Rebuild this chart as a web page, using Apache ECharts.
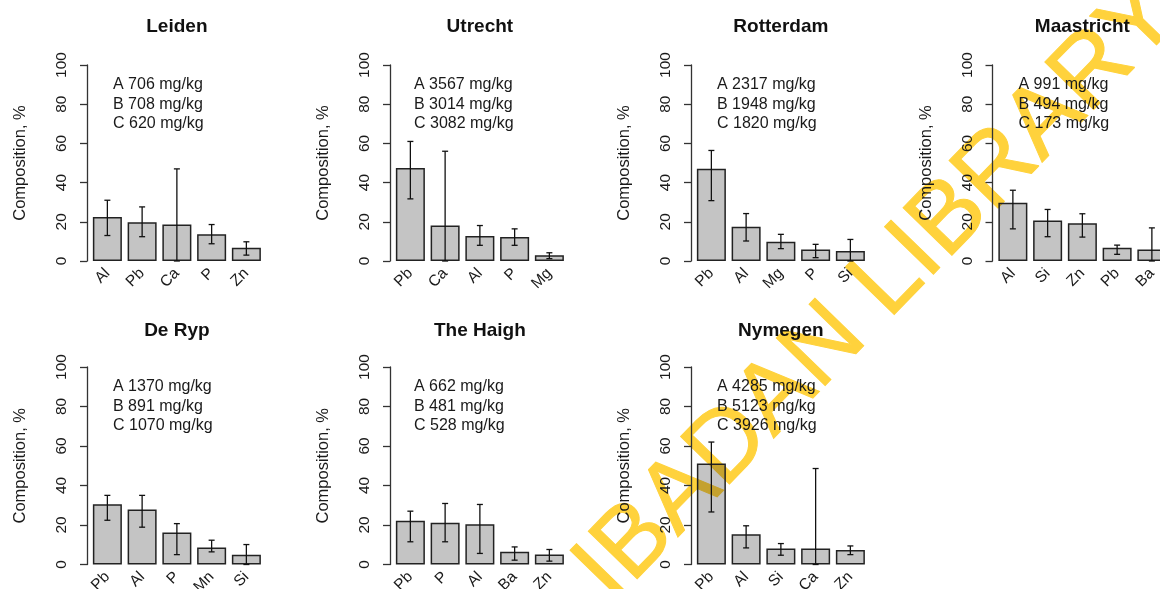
<!DOCTYPE html>
<html><head><meta charset="utf-8">
<script src="https://cdn.jsdelivr.net/npm/echarts@6/dist/echarts.min.js"></script>
<style>html,body{margin:0;padding:0;background:#fff}#c{width:1160px;height:589px}</style>
</head><body><div id="c"></div>
<script>
// ---- data ----
const cityNames = ['Leiden','Utrecht','Rotterdam','Maastricht','De Ryp','The Haigh','Nymegen'];

const leidenElems = ['Al','Pb','Ca','P','Zn'];
const leidenMean  = [22.5, 19.8, 18.6, 13.6, 6.8];
const leidenLow   = [13, 12.4, 0, 8.8, 3];
const leidenHigh  = [31, 27.6, 47, 18.6, 9.8];
const leidenConc  = ['A 706 mg/kg','B 708 mg/kg','C 620 mg/kg'];

const utrechtElems = ['Pb','Ca','Al','P','Mg'];
const utrechtMean  = [47.5, 18.1, 12.7, 12.2, 2.9];
const utrechtLow   = [31.7, 0, 8, 8, 1.2];
const utrechtHigh  = [61, 56, 18.1, 16.4, 4.2];
const utrechtConc  = ['A 3567 mg/kg','B 3014 mg/kg','C 3082 mg/kg'];

const rotterdamElems = ['Pb','Al','Mg','P','Si'];
const rotterdamMean  = [47.1, 17.5, 9.8, 5.9, 5.1];
const rotterdamLow   = [30.8, 10.2, 6.3, 1.7, 0];
const rotterdamHigh  = [56.4, 24.2, 13.6, 8.5, 11];
const rotterdamConc  = ['A 2317 mg/kg','B 1948 mg/kg','C 1820 mg/kg'];

const maastrichtElems = ['Al','Si','Zn','Pb','Ba'];
const maastrichtMean  = [29.7, 20.7, 19.2, 6.8, 5.9];
const maastrichtLow   = [16.4, 12.4, 12.2, 3.4, 0];
const maastrichtHigh  = [36.1, 26.3, 24.1, 8.1, 16.9];
const maastrichtConc  = ['A 991 mg/kg','B 494 mg/kg','C 173 mg/kg'];

const derypElems = ['Pb','Al','P','Mn','Si'];
const derypMean  = [30.5, 27.8, 16.2, 8.6, 5];
const derypLow   = [22.4, 18.9, 5, 6.4, 0];
const derypHigh  = [35, 35, 20.7, 12.3, 10.1];
const derypConc  = ['A 1370 mg/kg','B 891 mg/kg','C 1070 mg/kg'];

const haighElems = ['Pb','P','Al','Ba','Zn'];
const haighMean  = [22.1, 21.2, 20.4, 6.4, 5.1];
const haighLow   = [11.5, 11.5, 5.6, 2.2, 1.7];
const haighHigh  = [27, 30.9, 30.4, 8.9, 7.6];
const haighConc  = ['A 662 mg/kg','B 481 mg/kg','C 528 mg/kg'];

const nymegenElems = ['Pb','Al','Si','Ca','Zn'];
const nymegenMean  = [51.1, 15.3, 8.1, 8.1, 7.3];
const nymegenLow   = [26.6, 8.4, 4.7, 0, 5];
const nymegenHigh  = [62, 19.6, 10.6, 48.6, 9.4];
const nymegenConc  = ['A 4285 mg/kg','B 5123 mg/kg','C 3926 mg/kg'];

const yTicks = [0, 20, 40, 60, 80, 100];
const yAxisTitle = 'Composition, %';
const watermarkText = 'IBADAN LIBRARY';

// ---- layout ----
const FONT = '"Liberation Sans", Arial, Helvetica, sans-serif';
const colLefts = [90, 393, 694, 995.5];
const rowTops = [65, 367];
const rowHeights = [196, 197.5];
const titleCenters = [25.3, 329];
const gridW = 173.75;

const panels = [
  {elems: leidenElems, mean: leidenMean, low: leidenLow, high: leidenHigh, conc: leidenConc, col:0, row:0},
  {elems: utrechtElems, mean: utrechtMean, low: utrechtLow, high: utrechtHigh, conc: utrechtConc, col:1, row:0},
  {elems: rotterdamElems, mean: rotterdamMean, low: rotterdamLow, high: rotterdamHigh, conc: rotterdamConc, col:2, row:0},
  {elems: maastrichtElems, mean: maastrichtMean, low: maastrichtLow, high: maastrichtHigh, conc: maastrichtConc, col:3, row:0},
  {elems: derypElems, mean: derypMean, low: derypLow, high: derypHigh, conc: derypConc, col:0, row:1},
  {elems: haighElems, mean: haighMean, low: haighLow, high: haighHigh, conc: haighConc, col:1, row:1},
  {elems: nymegenElems, mean: nymegenMean, low: nymegenLow, high: nymegenHigh, conc: nymegenConc, col:2, row:1}
];

const option = {animation:false, backgroundColor:'#ffffff', title:[], grid:[], xAxis:[], yAxis:[], series:[], graphic:[]};
const TXT = '#1a1a1a';

panels.forEach((p, i) => {
  const left = colLefts[p.col], top = rowTops[p.row], h = rowHeights[p.row];
  option.grid.push({left: left, top: top, width: gridW, height: h, containLabel: false, outerBoundsMode: 'none'});
  option.title.push({
    text: cityNames[i], left: left + gridW/2, top: titleCenters[p.row] - 8, textAlign: 'center', padding: 0, z: 8,
    textStyle: {fontFamily: FONT, fontSize: 19, fontWeight: 'bold', color: '#111'}
  });
  option.xAxis.push({
    gridIndex: i, type: 'category', data: p.elems,
    axisLine: {show: false}, axisTick: {show: false}, splitLine: {show: false},
    axisLabel: {rotate: 45, margin: 10, interval: 0, fontSize: 15.5, color: TXT, fontFamily: FONT}
  });
  option.yAxis.push({
    gridIndex: i, type: 'value', min: yTicks[0], max: yTicks[yTicks.length-1], interval: yTicks[1]-yTicks[0], offset: 3,
    axisLine: {show: true, lineStyle: {color: '#333', width: 1.3}},
    axisTick: {show: true, length: 7, lineStyle: {color: '#333', width: 1.3}},
    splitLine: {show: false},
    axisLabel: {rotate: 90, margin: 17, fontSize: 15.5, color: TXT, fontFamily: FONT},
    name: yAxisTitle, nameLocation: 'middle', nameRotate: 90, nameGap: 58,
    nameTextStyle: {fontSize: 16.5, color: TXT, fontFamily: FONT}
  });
  option.series.push({
    type: 'bar', xAxisIndex: i, yAxisIndex: i, data: p.mean, barCategoryGap: '16.5%',
    itemStyle: {color: 'rgba(0,0,0,0.23)', borderColor: '#222', borderWidth: 1.5}, z: 2
  });
  option.series.push({
    type: 'custom', xAxisIndex: i, yAxisIndex: i, z: 3,
    data: p.elems.map((e, j) => [j, p.low[j], p.high[j]]),
    renderItem: function (params, api) {
      const x = api.value(0);
      const a = api.coord([x, api.value(1)]);
      const b = api.coord([x, api.value(2)]);
      const st = {stroke: '#111', lineWidth: 1.3};
      const cw = 3;
      return {type: 'group', children: [
        {type: 'line', shape: {x1: a[0], y1: a[1], x2: b[0], y2: b[1]}, style: st},
        {type: 'line', shape: {x1: a[0]-cw, y1: a[1], x2: a[0]+cw, y2: a[1]}, style: st},
        {type: 'line', shape: {x1: b[0]-cw, y1: b[1], x2: b[0]+cw, y2: b[1]}, style: st}
      ]};
    }
  });
  option.graphic.push({
    type: 'text', x: left + (p.col === 1 ? 21 : 23), y: top + 10, z: 10,
    style: {text: p.conc.join('\n'), font: '16px ' + FONT, lineHeight: 19.5, fill: TXT, verticalAlign: 'top', align: 'left'}
  });
});

// watermark drawn underneath; semi-transparent bar fill lets it show through (multiply-like look)
option.graphic.push({
  type: 'text', x: 878, y: 292, rotation: 45.8 * Math.PI / 180, z: -5, silent: true,
  style: {text: watermarkText, font: '99px ' + FONT, fill: '#FFD23C', stroke: '#FFD23C', lineWidth: 1,
          align: 'center', verticalAlign: 'middle'}
});

const chart = echarts.init(document.getElementById('c'), null, {renderer: 'canvas'});
chart.setOption(option);
</script>
</body></html>
